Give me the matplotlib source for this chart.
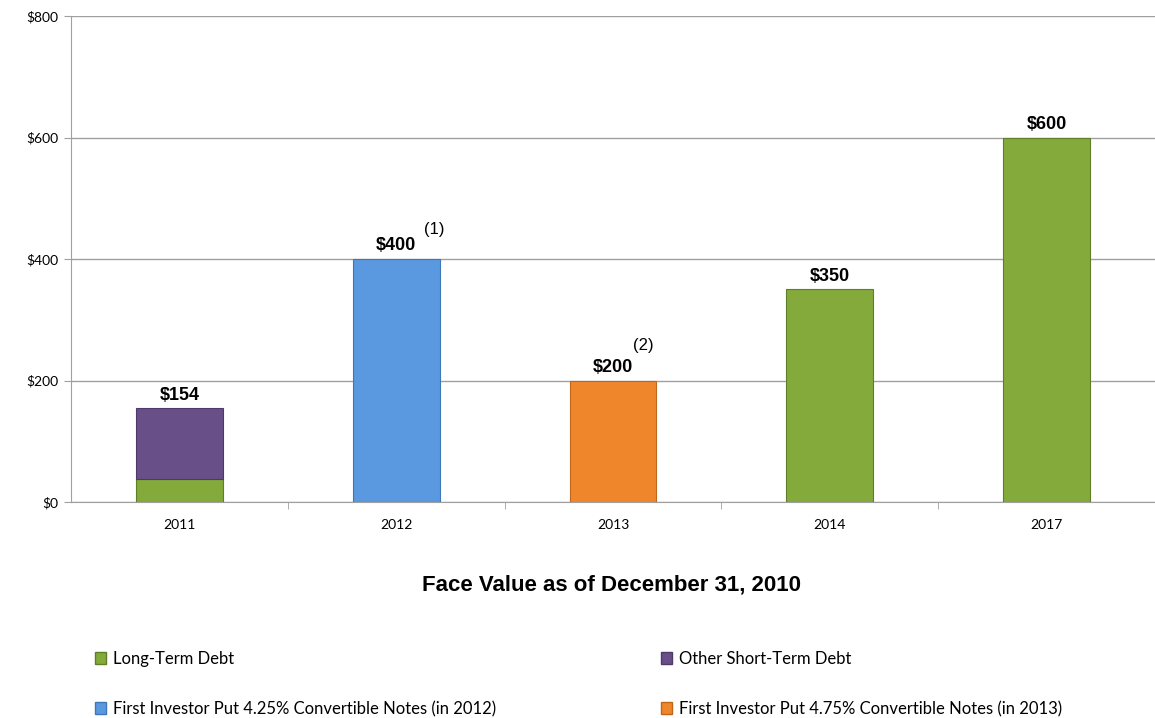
"""
Debt maturities, face value as of December 31, 2010
"""
import matplotlib
matplotlib.use('Agg')
import matplotlib.pyplot as plt
from matplotlib.patches import Patch
import numpy as np

# data
years = ['2011', '2012', '2013', '2014', '2017']
long_term = [38, 0, 0, 350, 600]
other_short = [116, 0, 0, 0, 0]
conv_2012 = [0, 400, 0, 0, 0]
conv_2013 = [0, 0, 200, 0, 0]
totals = [154, 400, 200, 350, 600]
value_labels = ['$154', '$400', '$200', '$350', '$600']
footnotes = {1: '(1)', 2: '(2)'}
y_ticks = [0, 200, 400, 600, 800]

c_green = '#84AA3C'
c_purple = '#684F88'
c_blue = '#5A98DF'
c_orange = '#F0862C'

plt.rcParams['font.family'] = ['Lato', 'DejaVu Sans']

fig = plt.figure(figsize=(11.55, 7.18), dpi=100)
ax = fig.add_axes([71 / 1155, 1 - 502 / 718, 1 - 71 / 1155, 486 / 718])

x = np.arange(len(years))
w = 0.40
lt = np.array(long_term)
os_ = np.array(other_short)
b12 = np.array(conv_2012)
series = [
    (lt, 0, c_green, '#5E7F28'),
    (os_, lt, c_purple, '#4E3A6A'),
    (b12, lt + os_, c_blue, '#3F78B8'),
    (np.array(conv_2013), lt + os_ + b12, c_orange, '#C0661A'),
]
for vals, bot, fc, ec in series:
    bars = ax.bar(x, vals, w, bottom=bot, color=fc, edgecolor=ec, linewidth=0.8, zorder=3)
    # hide empty segments so their edges don't show
    for p, v in zip(bars, vals):
        if v == 0:
            p.set_visible(False)

# footnote marks: offset (x, y) from the bar top
fn_offset = {1: (0.13, 48), 2: (0.09, 58)}
for i, (t, lab) in enumerate(zip(totals, value_labels)):
    ax.text(i, t + 8, lab, ha='center', va='bottom', fontsize=13, fontweight='bold',
            family='Liberation Sans')
    if i in footnotes:
        dx, dy = fn_offset[i]
        ax.text(i + dx, t + dy, footnotes[i], ha='left', va='center', fontsize=12,
                family='Liberation Sans')

ax.set_xlim(-0.5, (1155 - 71) / 217.5 - 0.5)
ax.set_ylim(0, 800)
ax.set_yticks(y_ticks)
ax.set_yticklabels(['$' + str(v) for v in y_ticks], fontsize=10)
ax.yaxis.grid(True, color='#A0A0A0', linewidth=1, zorder=0)
ax.set_axisbelow(True)

ax.set_xticks(x)
ax.set_xticklabels(years, fontsize=10)
ax.set_xticks(np.arange(len(years)) + 0.5, minor=True)
ax.tick_params(axis='x', which='major', length=0, pad=12)
ax.tick_params(axis='x', which='minor', length=5, color='#A0A0A0', direction='out')
ax.tick_params(axis='y', length=5, color='#A0A0A0', direction='out', pad=4)

for s in ['top', 'right']:
    ax.spines[s].set_visible(False)
for s in ['left', 'bottom']:
    ax.spines[s].set_color('#A0A0A0')

fig.text(612 / 1155, 1 - 585 / 718, 'Face Value as of December 31, 2010', ha='center', va='center',
         fontsize=16, fontweight='bold', family='Liberation Sans')

# legend
h_lt = Patch(facecolor=c_green, edgecolor='#5E7F28')
h_os = Patch(facecolor=c_purple, edgecolor='#4E3A6A')
h_b = Patch(facecolor=c_blue, edgecolor='#3F78B8')
h_o = Patch(facecolor=c_orange, edgecolor='#C0661A')
leg_kw = dict(frameon=False, fontsize=12, handlelength=0.7, handleheight=0.7,
              handletextpad=0.4, labelspacing=2.05, loc='upper left', borderaxespad=0)
l1 = fig.legend([h_lt, h_b], ['Long-Term Debt', 'First Investor Put 4.25% Convertible Notes (in 2012)'],
                bbox_to_anchor=(88 / 1155, 1 - 644 / 718), **leg_kw)
l2 = fig.legend([h_os, h_o], ['Other Short-Term Debt', 'First Investor Put 4.75% Convertible Notes (in 2013)'],
                bbox_to_anchor=(654 / 1155, 1 - 644 / 718), **leg_kw)

plt.savefig('out.png', dpi=100)
plt.close()
